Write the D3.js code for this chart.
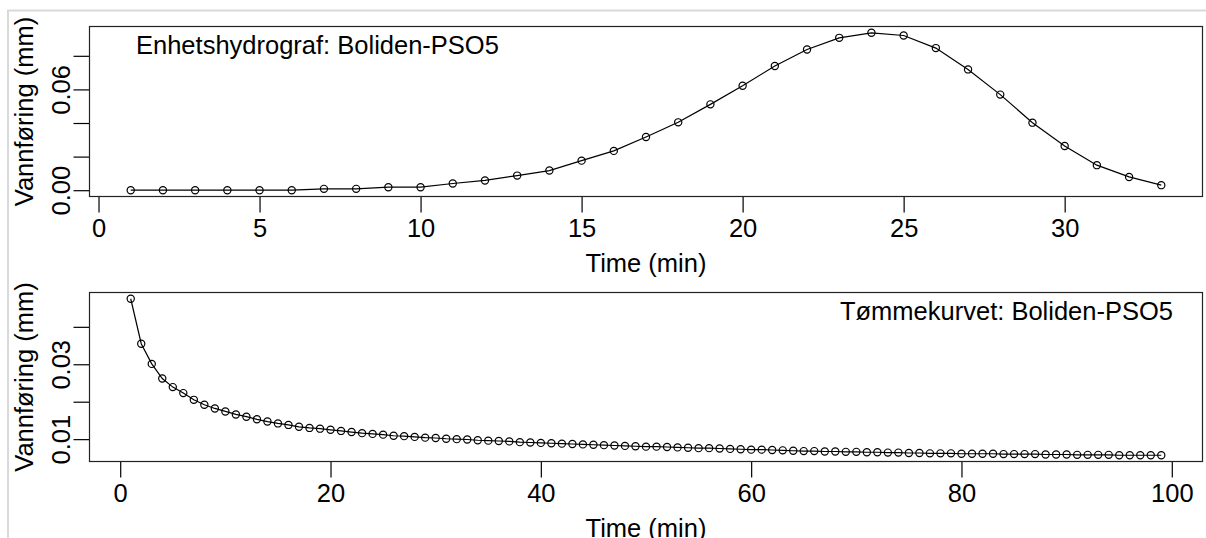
<!DOCTYPE html>
<html lang="no">
<head>
  <meta charset="UTF-8">
  <title>Enhetshydrograf og tømmekurve: Boliden-PSO5</title>
  <script src="https://d3js.org/d3.v7.min.js"></script>
  <style>
    body {
      margin: 0;
      background: #fff;
    }
    svg {
      display: block;
      font-family: Arial, "Liberation Sans", sans-serif;
    }
    .axis text, .lab {
      font-size: 25.5px;
      fill: #000;
    }
  </style>
</head>
<body>
  <svg width="1206" height="538"></svg>
  <script>
    // Unit hydrograph, one value per minute (1..33)
    const uhValues = [0.0000, 0.0000, 0.0000, 0.0000, 0.0000, 0.0000, 0.0008, 0.0008, 0.0018, 0.0018,
                      0.0040, 0.0058, 0.0087, 0.0117, 0.0176, 0.0234, 0.0317, 0.0404, 0.0511, 0.0622,
                      0.0739, 0.0838, 0.0907, 0.0937, 0.0921, 0.0846, 0.0719, 0.0569, 0.0402, 0.0263,
                      0.0149, 0.0079, 0.0030];

    // Recession curve, one value per minute (1..99)
    const tkValues = [0.0475, 0.0355, 0.0301, 0.0262, 0.0239, 0.0223, 0.0205, 0.0192, 0.0182, 0.0174,
                      0.0166, 0.0160, 0.0153, 0.0147, 0.0142, 0.0138, 0.0133, 0.0130, 0.0128, 0.0125,
                      0.0122, 0.0119, 0.0116, 0.0114, 0.0112, 0.0109, 0.0108, 0.0106, 0.0104, 0.0103,
                      0.0101, 0.0100, 0.0099, 0.0097, 0.0096, 0.0095, 0.0094, 0.0092, 0.0091, 0.0090,
                      0.0089, 0.0088, 0.0087, 0.0086, 0.0085, 0.0084, 0.0083, 0.0082, 0.0081, 0.0080,
                      0.0080, 0.0079, 0.0078, 0.0077, 0.0076, 0.0076, 0.0075, 0.0074, 0.0073, 0.0072,
                      0.0072, 0.0071, 0.0070, 0.0069, 0.0068, 0.0068, 0.0067, 0.0067, 0.0066, 0.0066,
                      0.0065, 0.0065, 0.0064, 0.0064, 0.0063, 0.0063, 0.0062, 0.0062, 0.0062, 0.0061,
                      0.0061, 0.0061, 0.0061, 0.0060, 0.0060, 0.0060, 0.0060, 0.0059, 0.0059, 0.0059,
                      0.0058, 0.0058, 0.0058, 0.0058, 0.0057, 0.0057, 0.0057, 0.0057, 0.0057];

    const uhXTicks = [0, 5, 10, 15, 20, 25, 30];
    const uhYTicks = [0, 0.02, 0.04, 0.06, 0.08];
    const uhYLabels = ["0.00", "", "", "0.06", ""];   // R drops the labels that would overlap

    const tkXTicks = [0, 20, 40, 60, 80, 100];
    const tkYTicks = [0.01, 0.02, 0.03, 0.04];
    const tkYLabels = ["0.01", "", "0.03", ""];

    const xTitle = "Time (min)";
    const yTitle = "Vannføring (mm)";

    const svg = d3.select("svg");
    const left = 89.5, right = 1202.5;

    // light grey frame of the original screenshot
    svg.append("path")
       .attr("d", "M8,538V10.5H1206")
       .attr("fill", "none")
       .attr("stroke", "#d9d9d9")
       .attr("stroke-width", 2);

    function drawPanel(p) {
      const n = p.values.length;
      const data = p.values.map((v, i) => ({ t: i + 1, v: v }));

      // R style axes: data range plus 4% on each side
      const xPad = 0.04 * (n - 1);
      const x = d3.scaleLinear()
                  .domain([1 - xPad, n + xPad])
                  .range([left, right]);
      const [lo, hi] = d3.extent(p.values);
      const yPad = 0.04 * (hi - lo);
      const y = d3.scaleLinear()
                  .domain([lo - yPad, hi + yPad])
                  .range([p.bottom, p.top]);

      const g = svg.append("g");

      // x axis
      const xAxis = g.append("g")
                     .attr("class", "axis")
                     .attr("transform", "translate(0," + p.bottom + ")")
                     .call(d3.axisBottom(x).tickValues(p.xTicks).tickSize(16).tickFormat(d3.format("d")));
      xAxis.select(".domain").remove();
      xAxis.selectAll("line").attr("stroke", "#000").attr("stroke-width", 1.2);
      xAxis.selectAll("text")
           .attr("y", 40.5)
           .attr("dy", null)
           .attr("font-family", null)
           .attr("font-size", null);

      // y axis with rotated labels
      const yAxis = g.append("g")
                     .attr("class", "axis")
                     .attr("transform", "translate(" + left + ",0)")
                     .call(d3.axisLeft(y).tickValues(p.yTicks).tickSize(16)
                             .tickFormat((d, i) => p.yLabels[i]));
      yAxis.select(".domain").remove();
      yAxis.selectAll("line").attr("stroke", "#000").attr("stroke-width", 1.2);
      yAxis.selectAll("text")
           .attr("transform", "rotate(-90)")
           .attr("x", 0)
           .attr("y", -19.5)
           .attr("dy", null)
           .attr("text-anchor", "middle")
           .attr("font-family", null)
           .attr("font-size", null);

      // plot box
      g.append("rect")
       .attr("x", left)
       .attr("y", p.top)
       .attr("width", right - left)
       .attr("height", p.bottom - p.top)
       .attr("fill", "none")
       .attr("stroke", "#222")
       .attr("stroke-width", 1.2);

      // line through the points (type = "o")
      const line = d3.line()
                     .x(d => x(d.t))
                     .y(d => y(d.v));
      g.append("path")
       .datum(data)
       .attr("d", line)
       .attr("fill", "none")
       .attr("stroke", "#000")
       .attr("stroke-width", 1.2);

      g.selectAll("circle")
       .data(data)
       .enter()
       .append("circle")
       .attr("cx", d => x(d.t))
       .attr("cy", d => y(d.v))
       .attr("r", 3.6)
       .attr("fill", "none")
       .attr("stroke", "#000")
       .attr("stroke-width", 1.2);

      // axis titles
      g.append("text")
       .attr("class", "lab")
       .attr("x", (left + right) / 2)
       .attr("y", p.bottom + 75.5)
       .attr("text-anchor", "middle")
       .text(xTitle);

      g.append("text")
       .attr("class", "lab")
       .attr("transform", "translate(33," + (p.top + p.bottom) / 2 + ") rotate(-90)")
       .attr("text-anchor", "middle")
       .text(yTitle);

      // panel title inside the box
      g.append("text")
       .attr("class", "lab")
       .attr("x", p.titleX)
       .attr("y", p.top + 27)
       .attr("text-anchor", p.titleAnchor)
       .text(p.title);
    }

    drawPanel({
      values: uhValues, top: 26.5, bottom: 196.5,
      xTicks: uhXTicks, yTicks: uhYTicks, yLabels: uhYLabels,
      title: "Enhetshydrograf: Boliden-PSO5", titleX: 136, titleAnchor: "start"
    });

    drawPanel({
      values: tkValues, top: 292.5, bottom: 461.5,
      xTicks: tkXTicks, yTicks: tkYTicks, yLabels: tkYLabels,
      title: "Tømmekurvet: Boliden-PSO5", titleX: 1173, titleAnchor: "end"
    });
  </script>
</body>
</html>
